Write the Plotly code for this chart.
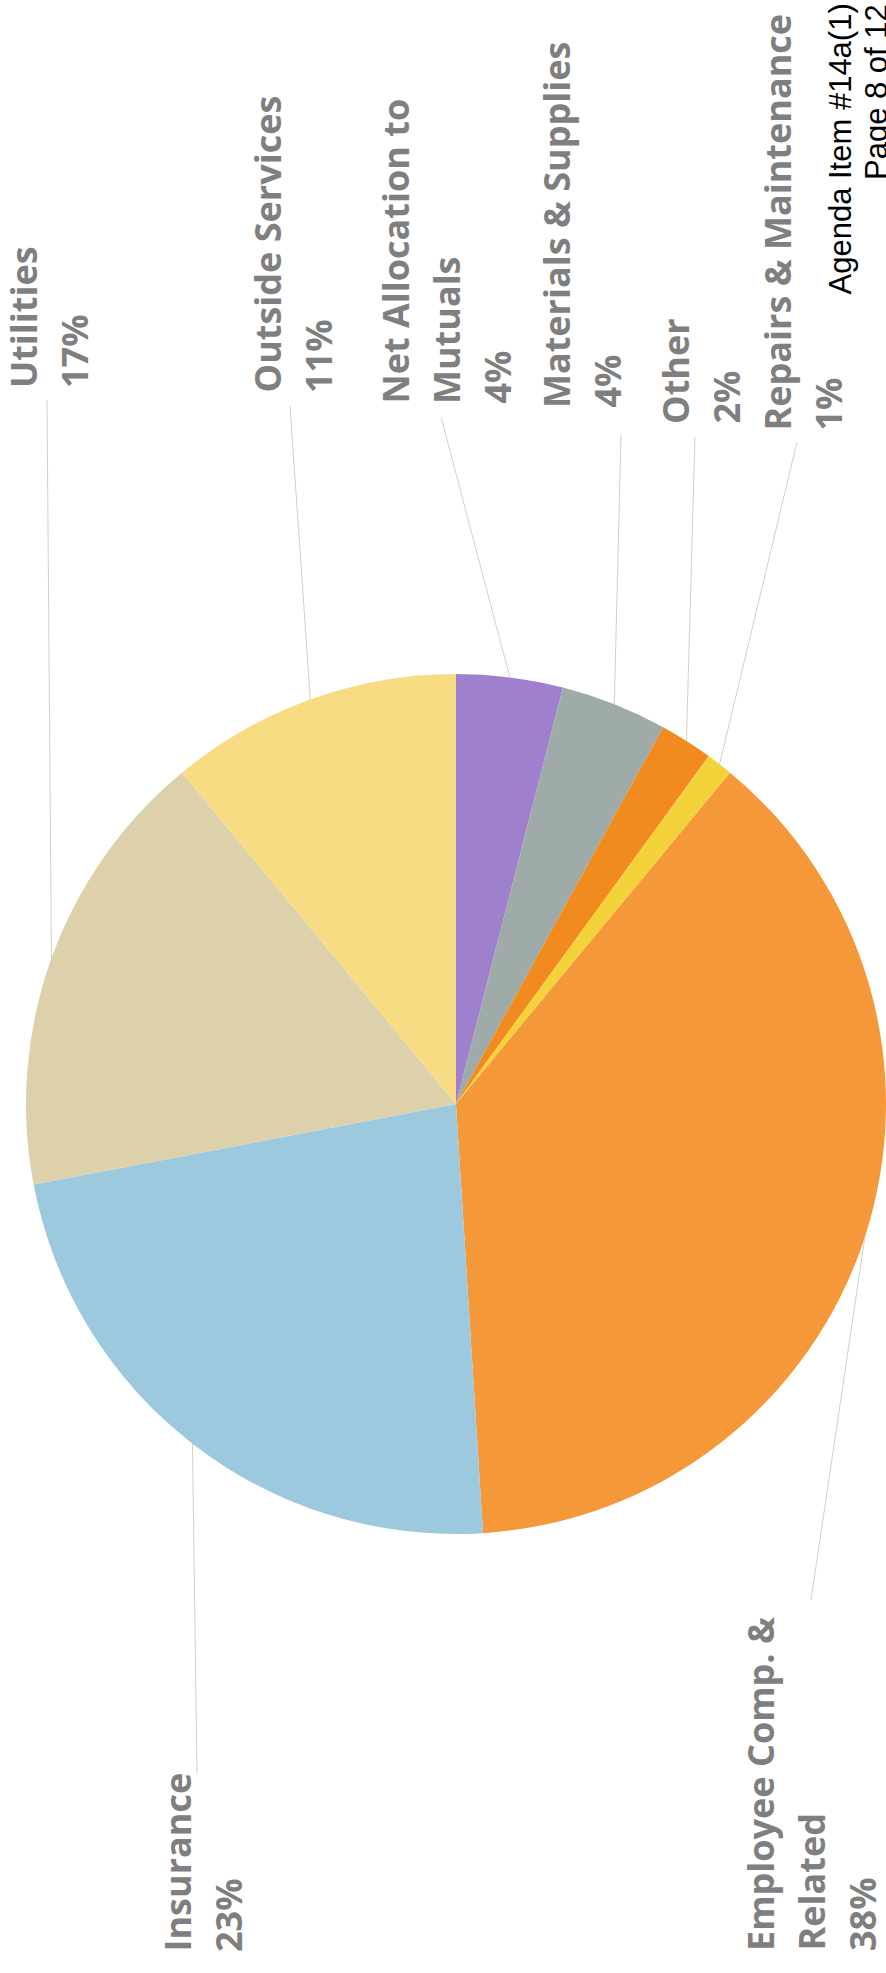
import math
import plotly.graph_objects as go

# Expense categories, in clockwise order starting at 12 o'clock
categories = [
    "Net Allocation to Mutuals",
    "Materials & Supplies",
    "Other",
    "Repairs & Maintenance",
    "Employee Comp. & Related",
    "Insurance",
    "Utilities",
    "Outside Services",
]
shares = [4, 4, 2, 1, 38, 23, 17, 11]  # percent of total

slice_colors = [
    "#9f80cc",  # Net Allocation to Mutuals
    "#9eaba8",  # Materials & Supplies
    "#f18a1f",  # Other
    "#f3d23a",  # Repairs & Maintenance
    "#f5983a",  # Employee Comp. & Related
    "#9dc9de",  # Insurance
    "#ddd1ab",  # Utilities
    "#f8dc84",  # Outside Services
]

# How long category names wrap in their labels
wrapped = {
    "Net Allocation to Mutuals": ["Net Allocation to", "Mutuals"],
    "Employee Comp. & Related": ["Employee Comp. &", "Related"],
}

header_lines = ["Agenda Item #14a(1)", "Page 8 of 12"]

# ---- page geometry (pixels) ----
W, H = 886, 1973
CX, CY, R = 456, 1104, 430
LINE_GAP = 51
LABEL_SIZE = 36

# label placement: first-line column x, y where the text starts,
# and the outer end of the leader line
label_place = {
    "Utilities": (23, 389, 47, 400),
    "Outside Services": (267, 394, 290, 406),
    "Net Allocation to Mutuals": (395, 405, 441, 417),
    "Materials & Supplies": (556, 409, 621, 435),
    "Other": (675, 425, 695, 437),
    "Repairs & Maintenance": (777, 432, 797, 442),
    "Insurance": (177, 1953, 197, 1773),
    "Employee Comp. & Related": (760, 1952, 811, 1600),
}

fig = go.Figure()

fig.add_trace(go.Pie(
    labels=categories,
    values=shares,
    sort=False,
    direction="clockwise",
    rotation=0,
    marker=dict(colors=slice_colors, line=dict(width=0)),
    textinfo="none",
    hoverinfo="label+percent",
    showlegend=False,
    domain=dict(
        x=[(CX - R) / W, (CX + R) / W],
        y=[1 - (CY + R) / H, 1 - (CY - R) / H],
    ),
))

total = sum(shares)
annotations = []
shapes = []
cum = 0.0
for name, val in zip(categories, shares):
    mid = (cum + val / 2) / total * 2 * math.pi
    cum += val
    ex = CX + R * math.sin(mid)
    ey = CY - R * math.cos(mid)
    lx, ly, sx, sy = label_place[name]
    shapes.append(dict(
        type="line", xref="x", yref="y",
        x0=sx, y0=sy, x1=ex, y1=ey,
        line=dict(color="#d3d0c2", width=1),
    ))
    lines = wrapped.get(name, [name]) + [f"{val}%"]
    for i, txt in enumerate(lines):
        annotations.append(dict(
            x=lx + i * LINE_GAP, y=ly, xref="x", yref="y",
            text=txt, showarrow=False, textangle=-90,
            xanchor="center", yanchor="bottom", borderpad=0,
            font=dict(family="Open Sans", size=LABEL_SIZE,
                      color="#7f7f7f", weight="bold"),
        ))

# page header, right-aligned to the page edge
for i, txt in enumerate(header_lines):
    annotations.append(dict(
        x=840 + i * 36, y=2, xref="x", yref="y",
        text=txt, showarrow=False, textangle=-90,
        xanchor="center", yanchor="top",
        font=dict(family="Liberation Sans", size=31, color="#000000"),
    ))

fig.update_layout(
    width=W, height=H,
    margin=dict(l=0, r=0, t=0, b=0),
    paper_bgcolor="white", plot_bgcolor="white",
    xaxis=dict(range=[0, W], visible=False, fixedrange=True),
    yaxis=dict(range=[H, 0], visible=False, fixedrange=True),
    annotations=annotations,
    shapes=shapes,
)

fig.write_html("out.html")
